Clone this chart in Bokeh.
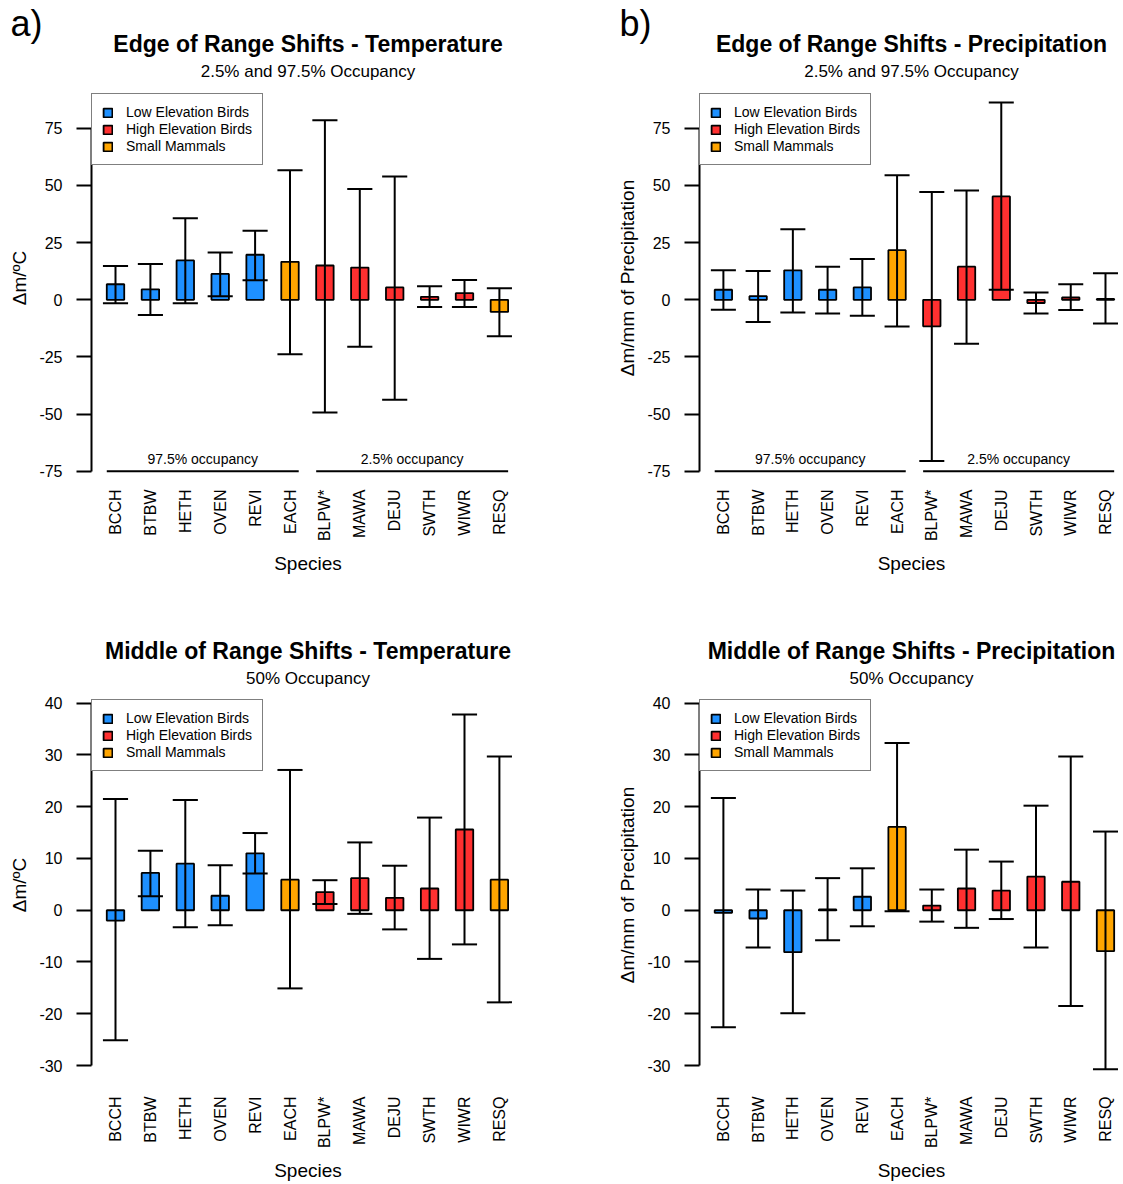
import math
from bokeh.plotting import figure
from bokeh.models import ColumnDataSource, FixedTicker, Range1d, Label, Legend, LegendItem, Title
from bokeh.layouts import gridplot
from bokeh.embed import file_html
from bokeh.resources import INLINE

FONT = "Liberation Sans"

# ---------------- data ----------------
species = ["BCCH", "BTBW", "HETH", "OVEN", "REVI", "EACH",
           "BLPW*", "MAWA", "DEJU", "SWTH", "WIWR", "RESQ"]
species_group = ["low", "low", "low", "low", "low", "mammal",
                 "high", "high", "high", "high", "high", "mammal"]
group_names = {"low": "Low Elevation Birds", "high": "High Elevation Birds",
               "mammal": "Small Mammals"}
group_colors = {"low": "#1E90FF", "high": "#FF3030", "mammal": "#FFA500"}
legend_order = ["low", "high", "mammal"]

edge_temp_mean = [6.8, 4.6, 17.2, 11.3, 19.7, 16.6, 15.0, 14.1, 5.4, 1.3, 2.9, -5.3]
edge_temp_lower = [-1.5, -6.6, -1.5, 1.5, 8.5, -23.8, -49.3, -20.5, -43.7, -3.2, -3.1, -15.9]
edge_temp_upper = [14.8, 15.7, 35.7, 20.7, 30.2, 56.7, 78.5, 48.4, 53.9, 5.9, 8.7, 5.1]

edge_precip_mean = [4.4, 1.6, 12.9, 4.4, 5.4, 21.7, -11.6, 14.5, 45.2, -1.4, 1.0, 0.4]
edge_precip_lower = [-4.3, -9.7, -5.6, -6.0, -7.0, -11.7, -70.5, -19.2, 4.4, -6.0, -4.5, -10.4]
edge_precip_upper = [12.9, 12.6, 30.8, 14.5, 17.8, 54.5, 47.1, 47.8, 86.3, 3.2, 6.8, 11.6]

mid_temp_mean = [-2.0, 7.2, 9.0, 2.8, 11.0, 5.9, 3.5, 6.2, 2.4, 4.2, 15.6, 5.9]
mid_temp_lower = [-25.1, 2.7, -3.3, -2.9, 7.1, -15.1, 1.2, -0.7, -3.7, -9.4, -6.6, -17.8]
mid_temp_upper = [21.5, 11.5, 21.3, 8.7, 14.9, 27.1, 5.8, 13.1, 8.6, 17.9, 37.8, 29.7]

mid_precip_mean = [-0.5, -1.6, -8.1, 0.15, 2.6, 16.1, 0.9, 4.2, 3.8, 6.5, 5.5, -7.9]
mid_precip_lower = [-22.6, -7.2, -19.9, -5.8, -3.1, -0.2, -2.2, -3.4, -1.7, -7.2, -18.5, -30.7]
mid_precip_upper = [21.7, 4.0, 3.8, 6.2, 8.1, 32.3, 4.0, 11.7, 9.4, 20.2, 29.7, 15.2]

edge_yticks = [-75, -50, -25, 0, 25, 50, 75]
mid_yticks = [-30, -20, -10, 0, 10, 20, 30, 40]

occupancy_groups = [("97.5% occupancy", 0, 5), ("2.5% occupancy", 6, 11)]
occupancy_level = -75

# ---------------- layout constants (page pixels) ----------------
KX = 34.9      # pixels per bar slot
BAR_W = 0.5
CAP_W = 0.72


def make_panel(mean, lower, upper, yticks, ylabel, title, subtitle, letter,
               fig_box, frame_box, first_bar_px, zero_py, ky,
               tick_standoff, legend_top, show_occupancy,
               sub_standoff, title_standoff, letter_standoff):
    gx, gy, W, H = fig_box
    fl, ft, fr, fb = frame_box
    x_start = 1 - (first_bar_px - fl) / KX
    x_end = x_start + (fr - fl) / KX
    y_start = (zero_py - fb) / ky
    y_end = (zero_py - ft) / ky

    p = figure(width=W, height=H, output_backend="svg", toolbar_location=None,
               x_range=Range1d(x_start, x_end), y_range=Range1d(y_start, y_end),
               min_border_left=fl - gx, min_border_right=gx + W - fr,
               min_border_top=ft - gy, min_border_bottom=gy + H - fb)
    p.outline_line_color = None
    p.xgrid.visible = False
    p.ygrid.visible = False
    p.background_fill_color = "white"
    p.border_fill_color = "white"

    xs = [i + 1 for i in range(len(species))]
    src = ColumnDataSource(dict(
        x=xs, mean=mean, lower=lower, upper=upper,
        xl=[x - CAP_W / 2 for x in xs], xr=[x + CAP_W / 2 for x in xs],
        color=[group_colors[g] for g in species_group]))

    bars = p.vbar(x="x", width=BAR_W, bottom=0, top="mean", source=src,
                  fill_color="color", line_color="black", line_width=1.8)
    p.segment(x0="x", y0="lower", x1="x", y1="upper", source=src,
              line_color="black", line_width=2)
    p.segment(x0="xl", y0="lower", x1="xr", y1="lower", source=src,
              line_color="black", line_width=2)
    p.segment(x0="xl", y0="upper", x1="xr", y1="upper", source=src,
              line_color="black", line_width=2)

    if show_occupancy:
        for label, i0, i1 in occupancy_groups:
            x0 = xs[i0] - BAR_W / 2
            x1 = xs[i1] + BAR_W / 2
            p.segment(x0=[x0], y0=[occupancy_level], x1=[x1], y1=[occupancy_level],
                      line_color="black", line_width=2)
            p.add_layout(Label(x=(xs[i0] + xs[i1]) / 2, y=occupancy_level, y_offset=12,
                               text=label, text_align="center", text_baseline="middle",
                               text_font=FONT, text_font_size="14px", text_color="black"))

    # x axis
    xa = p.xaxis[0]
    xa.ticker = FixedTicker(ticks=xs)
    xa.major_label_overrides = {x: s for x, s in zip(xs, species)}
    xa.major_label_orientation = math.pi / 2
    xa.axis_line_color = None
    xa.major_tick_line_color = None
    xa.minor_tick_line_color = None
    xa.major_tick_out = 0
    xa.major_tick_in = 0
    xa.major_label_standoff = tick_standoff
    xa.major_label_text_font = FONT
    xa.major_label_text_font_size = "16px"
    xa.major_label_text_color = "black"
    xa.axis_label = "Species"
    xa.axis_label_text_font = FONT
    xa.axis_label_text_font_size = "19px"
    xa.axis_label_text_font_style = "normal"
    xa.axis_label_text_color = "black"
    xa.axis_label_standoff = 9

    # y axis
    ya = p.yaxis[0]
    ya.ticker = FixedTicker(ticks=yticks)
    ya.major_label_overrides = {t: str(t) for t in yticks}
    ya.bounds = (yticks[0], yticks[-1])
    ya.axis_line_width = 2
    ya.axis_line_color = "black"
    ya.major_tick_line_width = 2
    ya.major_tick_line_color = "black"
    ya.major_tick_out = 15
    ya.major_tick_in = 0
    ya.minor_tick_line_color = None
    ya.major_label_standoff = 14
    ya.major_label_text_font = FONT
    ya.major_label_text_font_size = "16px"
    ya.major_label_text_color = "black"
    ya.axis_label = ylabel
    ya.axis_label_text_font = FONT
    ya.axis_label_text_font_size = "19px"
    ya.axis_label_text_font_style = "normal"
    ya.axis_label_text_color = "black"
    ya.axis_label_standoff = 6

    # legend
    items = []
    for g in legend_order:
        idx = species_group.index(g)
        items.append(LegendItem(label=group_names[g], renderers=[bars], index=idx))
    leg_h = 70
    legend = Legend(items=items, location=(0, fb - (legend_top + leg_h)),
                    border_line_color="black", border_line_width=1.8,
                    background_fill_color="white", background_fill_alpha=1.0,
                    label_text_font=FONT, label_text_font_size="14px",
                    label_text_color="black",
                    glyph_width=11, glyph_height=11, label_height=16,
                    label_standoff=13, spacing=1, padding=10, margin=0)
    p.add_layout(legend)

    # titles (stacked outward from the frame)
    p.add_layout(Title(text=subtitle, align="center", text_font=FONT,
                       text_font_size="17px", text_font_style="normal",
                       text_color="black", standoff=sub_standoff), "above")
    p.add_layout(Title(text=title, align="center", text_font=FONT,
                       text_font_size="23px", text_font_style="bold",
                       text_color="black", standoff=title_standoff), "above")
    if letter:
        p.add_layout(Title(text=letter, align="left", offset=-(fl - gx) + (10 if gx == 0 else 3),
                           text_font=FONT, text_font_size="36px", text_font_style="normal",
                           text_color="black", standoff=letter_standoff), "above")
    return p


pa = make_panel(edge_temp_mean, edge_temp_lower, edge_temp_upper, edge_yticks,
                "Δm/ºC", "Edge of Range Shifts - Temperature", "2.5% and 97.5% Occupancy", "a)",
                (0, 0, 614, 608), (91, 82, 524, 473), 115, 299.3, 2.287,
                16, 95, True, 3, 4, -34)
pb = make_panel(edge_precip_mean, edge_precip_lower, edge_precip_upper, edge_yticks,
                "Δm/mm of Precipitation", "Edge of Range Shifts - Precipitation",
                "2.5% and 97.5% Occupancy", "b)",
                (614, 0, 509, 608), (697, 82, 1123, 473), 721, 299.3, 2.287,
                16, 95, True, 3, 4, -34)
pc = make_panel(mid_temp_mean, mid_temp_lower, mid_temp_upper, mid_yticks,
                "Δm/ºC", "Middle of Range Shifts - Temperature", "50% Occupancy", None,
                (0, 608, 614, 576), (91, 695, 524, 1075), 115, 910.3, 5.19,
                22, 702, False, 16, -10, 0)
pd_ = make_panel(mid_precip_mean, mid_precip_lower, mid_precip_upper, mid_yticks,
                 "Δm/mm of Precipitation", "Middle of Range Shifts - Precipitation",
                 "50% Occupancy", None,
                 (614, 608, 509, 576), (697, 695, 1123, 1075), 721, 910.3, 5.19,
                 22, 702, False, 16, -10, 0)

grid = gridplot([[pa, pb], [pc, pd_]], toolbar_location=None)
open("out.html", "w").write(file_html(grid, INLINE))
